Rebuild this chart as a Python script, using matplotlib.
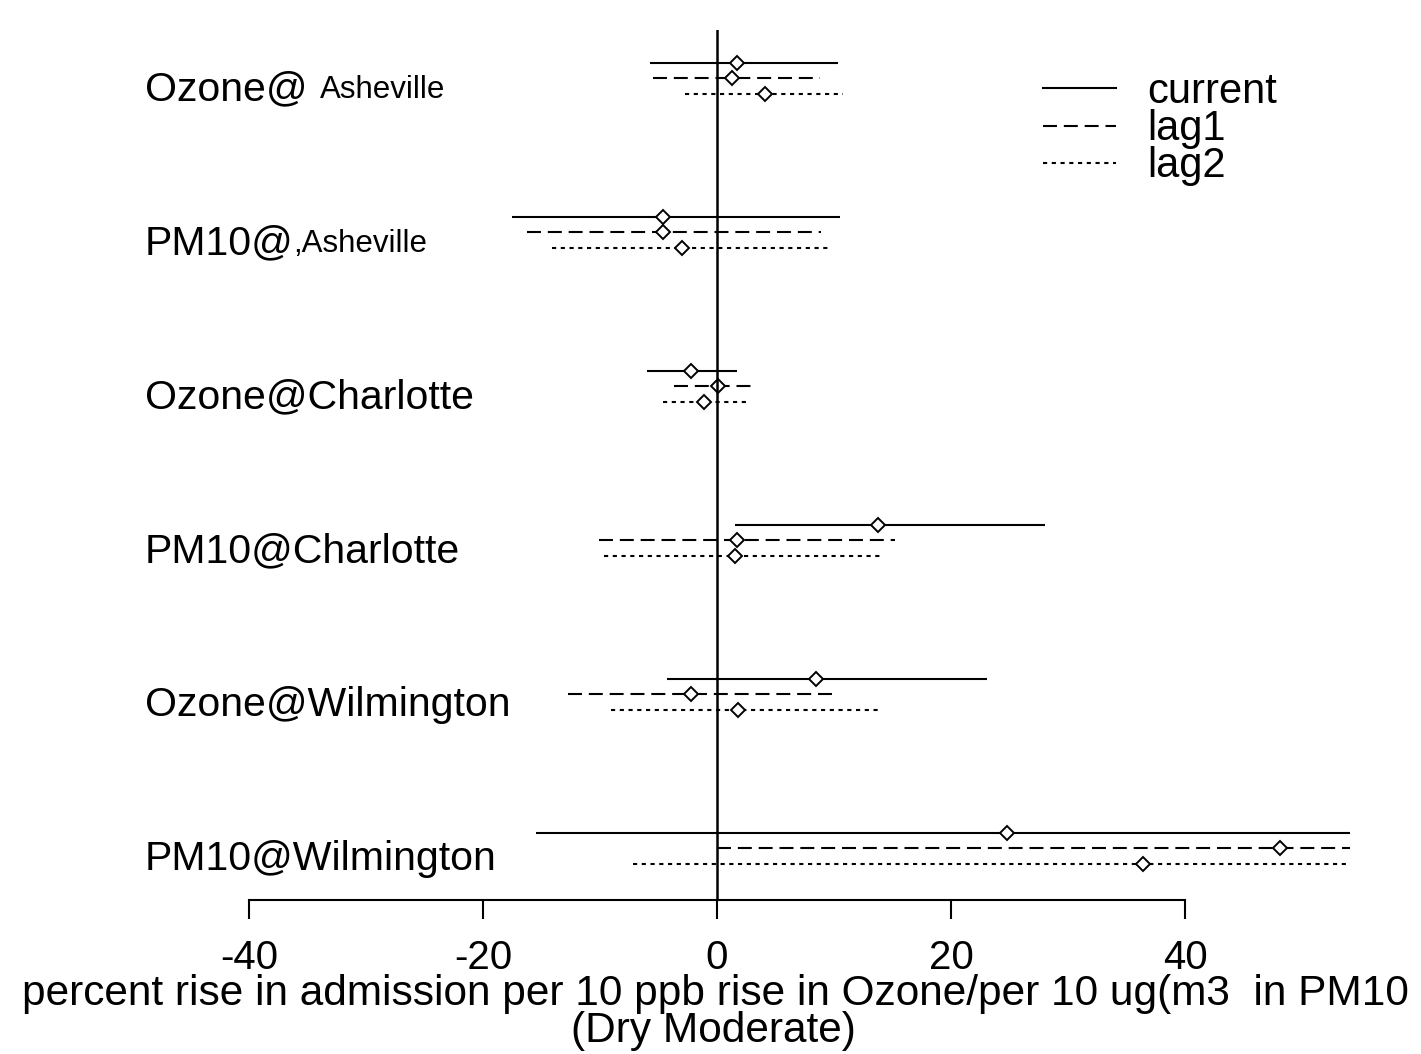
import matplotlib
matplotlib.use('Agg')
import matplotlib.pyplot as plt
from matplotlib.lines import Line2D

plt.rcParams['font.family'] = ['Liberation Sans', 'DejaVu Sans']

# groups from top to bottom
groups = ['Ozone@', 'PM10@', 'Ozone@Charlotte', 'PM10@Charlotte',
          'Ozone@Wilmington', 'PM10@Wilmington']
small_suffix = ['Asheville', ',Asheville', '', '', '', '']
lags = ['current', 'lag1', 'lag2']

# point estimates (percent rise)
est_current = [1.7, -4.6, -2.2, 13.8, 8.5, 24.8]
est_lag1 = [1.3, -4.6, 0.1, 1.7, -2.2, 48.1]
est_lag2 = [4.1, -3.0, -1.1, 1.5, 1.8, 36.4]

# lower and upper confidence limits
lo_current = [-5.7, -17.5, -6.0, 1.5, -4.3, -15.5]
hi_current = [10.3, 10.5, 1.7, 28.0, 23.1, 70.0]
lo_lag1 = [-5.5, -16.2, -3.7, -10.1, -12.7, 0.0]
hi_lag1 = [8.8, 8.9, 3.1, 15.2, 10.1, 105.0]
lo_lag2 = [-2.7, -14.1, -4.6, -9.7, -9.1, -7.2]
hi_lag2 = [10.8, 9.7, 2.5, 14.1, 13.9, 88.0]

estimates = [est_current, est_lag1, est_lag2]
lowers = [lo_current, lo_lag1, lo_lag2]
uppers = [hi_current, hi_lag1, hi_lag2]
styles = ['-', (0, (6.7, 3.3)), (0, (2.0, 2.2))]
offsets = [0.0, -0.1, -0.2]

fig = plt.figure(figsize=(14.21, 10.54), dpi=100)
ax = fig.add_axes([108.6 / 1421, 154 / 1054, (1350 - 108.6) / 1421, 870 / 1054])

n = len(groups)
base = [n - i for i in range(n)]

for j in range(3):
    for i in range(n):
        y = base[i] + offsets[j]
        ax.plot([lowers[j][i], uppers[j][i]], [y, y], color='black',
                lw=1.5, linestyle=styles[j], solid_capstyle='butt',
                dash_capstyle='butt')
        ax.plot(estimates[j][i], y, marker='D',
                ms=7.5, mfc='white', mec='black', mew=1.4, linestyle='none')

ax.axvline(0, color='black', lw=1.8)

# row labels
for i in range(n):
    t = ax.text(-48.9, base[i] - 0.17, groups[i], fontsize=29.5,
                ha='left', va='center')
    if small_suffix[i]:
        gap = 9 if not small_suffix[i].startswith(',') else 0
        ax.annotate(small_suffix[i], xy=(1, 0), xycoords=t,
                    xytext=(gap, 2), textcoords='offset points',
                    fontsize=22.5, ha='left', va='bottom')

ax.set_xlim(-52, 54.1)
ax.set_ylim(0.565, 6.214)

for s in ['top', 'right', 'left']:
    ax.spines[s].set_visible(False)
ax.spines['bottom'].set_bounds(-40, 40)
ax.spines['bottom'].set_linewidth(1.5)
ax.set_yticks([])
ax.set_xticks([-40, -20, 0, 20, 40])
ax.set_xticklabels(['-40', '-20', '0', '20', '40'])
ax.tick_params(axis='x', direction='out', length=14, width=1.5,
               labelsize=29, pad=14)

fig.text(715 / 1421, 1 - 994 / 1054,
         'percent rise in admission per 10 ppb rise in Ozone/per 10 ug(m3  in PM10',
         fontsize=30.5, ha='center', va='center')
fig.text(713 / 1421, 1 - 1031 / 1054, '(Dry Moderate)',
         fontsize=30.5, ha='center', va='center')

handles = [Line2D([], [], color='black', lw=1.5, linestyle=styles[k]) for k in range(3)]
ax.legend(handles, lags, loc='upper left',
          bbox_to_anchor=(1043 / 1421, 1 - 72 / 1054),
          bbox_transform=fig.transFigure, frameon=False, fontsize=30,
          handlelength=1.75, handletextpad=0.75, labelspacing=-0.07,
          borderpad=0, borderaxespad=0)

fig.savefig('out.png', dpi=100)
plt.close(fig)
